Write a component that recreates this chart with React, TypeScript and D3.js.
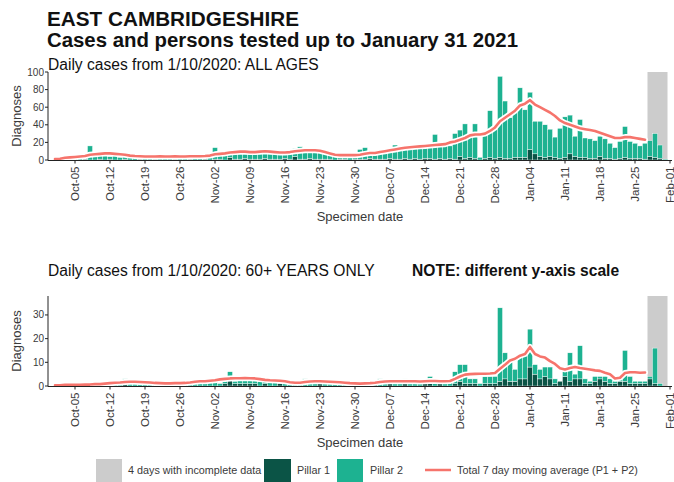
import React from 'react';
import * as d3 from 'd3';

// data: daily cases from 1 Oct 2020 (index 0) to 31 Jan 2021 (index 122)
const startDate = '2020-10-01';
const incompleteDays = ['2021-01-28', '2021-01-31'];

const weekTicks = [
  '2020-10-05', '2020-10-12', '2020-10-19', '2020-10-26', '2020-11-02', '2020-11-09',
  '2020-11-16', '2020-11-23', '2020-11-30', '2020-12-07', '2020-12-14', '2020-12-21',
  '2020-12-28', '2021-01-04', '2021-01-11', '2021-01-18', '2021-01-25', '2021-02-01',
];
const weekTickLabels = [
  'Oct-05', 'Oct-12', 'Oct-19', 'Oct-26', 'Nov-02', 'Nov-09', 'Nov-16', 'Nov-23', 'Nov-30',
  'Dec-07', 'Dec-14', 'Dec-21', 'Dec-28', 'Jan-04', 'Jan-11', 'Jan-18', 'Jan-25', 'Feb-01',
];

const allAgesPillar1 = [
  0, 0, 0, 1, 0, 0, 1, 0, 0, 1,
  0, 1, 0, 0, 1, 0, 0, 1, 0, 0,
  1, 0, 0, 0, 1, 0, 0, 1, 0, 0,
  1, 0, 1, 1, 0, 3, 1, 1, 2, 1,
  1, 1, 2, 1, 1, 1, 2, 1, 4, 1,
  1, 2, 1, 1, 1, 1, 0, 1, 1, 0,
  1, 1, 1, 2, 1, 1, 1, 2, 1, 1,
  2, 1, 2, 1, 2, 2, 1, 2, 1, 2,
  1, 4, 2, 3, 2, 0, 2, 3, 2, 3,
  2, 2, 3, 3, 3, 12, 7, 4, 3, 4,
  3, 2, 3, 7, 4, 3, 3, 2, 2, 4,
  2, 2, 1, 2, 3, 2, 2, 2, 1, 4,
  3, 2, 0,
];
const allAgesPillar2 = [
  2, 1, 3, 1, 4, 5, 2, 16, 4, 4,
  6, 3, 7, 3, 4, 3, 4, 2, 5, 4,
  2, 5, 4, 3, 3, 5, 4, 2, 4, 5,
  5, 3, 13, 4, 7, 6, 7, 9, 7, 7,
  9, 8, 8, 7, 6, 8, 6, 9, 9, 14,
  10, 10, 9, 8, 7, 4, 4, 4, 2, 4,
  5, 11, 13, 6, 8, 6, 9, 9, 16, 11,
  11, 14, 12, 15, 15, 13, 28, 15, 17, 14,
  29, 30, 39, 24, 39, 3, 26, 53, 33, 92,
  65, 46, 54, 79, 54, 65, 37, 40, 37, 31,
  23, 34, 46, 44, 23, 43, 22, 22, 20, 23,
  22, 17, 13, 19, 35, 19, 17, 14, 18, 18,
  27, 15, 1,
];
const allAgesAverage = [
  1, 1.5, 2.5, 3, 3.5, 4, 4.5, 6, 6.5, 7,
  7.5, 7.5, 7, 6.5, 6, 5, 4.5, 4.2, 4, 4,
  4, 4.2, 4, 4, 4.2, 4, 4, 4.2, 4.3, 4.3,
  4.5, 5, 6.5, 7, 7.5, 8.5, 9, 9.5, 9.5, 9,
  9, 9.5, 10, 9.5, 9, 8.5, 8.5, 9, 10, 10.5,
  11, 11, 11, 10.5, 9, 7.5, 6, 5.5, 5.5, 5.5,
  5.5, 6, 7, 8, 8, 9, 10, 11, 12, 13,
  14, 14.5, 15, 15.5, 16, 16.5, 17, 17.5, 18, 20,
  21, 23, 25, 28, 29, 29, 30, 33, 37, 44,
  48, 52, 56, 62, 64, 68, 63, 60, 57, 54,
  50, 45, 42, 40, 38, 36, 35, 34, 33, 31,
  29, 27, 25, 25, 26, 26, 25, 24, 23,
];

const over60Pillar1 = [
  0, 0, 0, 0, 0, 0, 0, 0, 0, 0,
  0, 0, 0, 0, 1, 0, 0, 0, 0, 0,
  0, 0, 0, 1, 0, 0, 0, 0, 0, 0,
  0, 0, 0, 0, 1, 4, 1, 1, 1, 1,
  1, 0, 1, 0, 0, 1, 0, 0, 0, 0,
  0, 0, 0, 1, 0, 0, 0, 0, 0, 0,
  0, 0, 0, 0, 1, 0, 0, 1, 0, 0,
  1, 0, 0, 0, 1, 1, 0, 1, 0, 0,
  1, 2, 1, 1, 1, 0, 1, 1, 1, 2,
  3, 2, 2, 3, 3, 8, 5, 3, 4, 3,
  1, 2, 4, 2, 3, 3, 1, 1, 2, 3,
  2, 1, 1, 2, 2, 1, 1, 1, 1, 3,
  1, 0, 0,
];
const over60Pillar2 = [
  0, 0, 1, 0, 0, 1, 0, 1, 0, 1,
  2, 1, 2, 1, 2, 1, 2, 2, 1, 2,
  1, 1, 1, 1, 1, 1, 1, 2, 2, 2,
  2, 2, 3, 1, 2, 2, 1, 2, 2, 3,
  2, 2, 2, 2, 2, 2, 2, 1, 1, 2,
  3, 2, 2, 1, 1, 2, 2, 1, 1, 1,
  1, 1, 1, 2, 1, 3, 2, 1, 1, 2,
  2, 2, 2, 1, 1, 3, 2, 1, 1, 2,
  5, 7, 8, 2, 2, 1, 3, 3, 3, 31,
  11, 9, 5, 9, 11, 16, 4, 4, 4, 5,
  2, 0, 2, 12, 2, 14, 2, 1, 2, 1,
  2, 2, 1, 1, 13, 3, 1, 1, 1, 1,
  15, 1, 0,
];
const over60Average = [
  0.3, 0.3, 0.5, 0.5, 0.5, 0.5, 0.6, 0.6, 0.8, 0.8,
  1, 1.2, 1.4, 1.5, 1.7, 1.8, 1.8, 1.7, 1.6, 1.5,
  1.3, 1.2, 1.1, 1.1, 1.2, 1.2, 1.3, 1.5, 1.8, 2,
  2, 2.2, 2.4, 2.8, 3, 3.2, 3.3, 3.3, 3.4, 3.3,
  3.2, 2.9, 2.6, 2.4, 2.3, 2.2, 2, 1.6, 1.4, 1.4,
  1.7, 1.9, 2, 2, 1.9, 1.8, 1.7, 1.6, 1.4, 1.2,
  1.1, 1, 1.1, 1.2, 1.4, 1.7, 1.9, 2, 2, 2,
  2, 2, 2, 1.9, 2, 2.1, 2.1, 2, 2, 2.1,
  3, 4, 4.8, 5, 5.1, 5.2, 5.2, 5.3, 5.5, 7.3,
  9, 10.8, 11.5, 12.8, 13.5, 16.5, 13.5, 12.5, 12, 10.5,
  9.3, 7.5, 7, 7.6, 8, 7.6, 7.3, 7, 6.6, 6.4,
  5.6, 5, 3.2, 3.5, 5.5, 5.8, 5.8, 5.6, 5.7,
];

const allAgesTicks = [0, 20, 40, 60, 80, 100];
const over60Ticks = [0, 10, 20, 30];

const FONT = '"Liberation Sans", Arial, Helvetica, sans-serif';
const PILLAR1 = '#0b5446';
const PILLAR2 = '#1db291';
const AVG = '#f6746c';
const BAND = '#cccccc';
const TEXT = '#3a3a3a';

const DAY = 864e5;
const start = new Date(startDate + 'T00:00:00Z');
const dateAt = (i: number) => new Date(start.getTime() + i * DAY);
const x = d3.scaleUtc().domain([dateAt(-1.4), dateAt(123.4)]).range([48, 672]);
const dayW = x(dateAt(1)) - x(dateAt(0));

interface PanelProps {
  top: number;
  bottom: number;
  yMax: number;
  yTicks: number[];
  pillar1: number[];
  pillar2: number[];
  average: number[];
}

const Panel: React.FC<PanelProps> = ({ top, bottom, yMax, yTicks, pillar1, pillar2, average }) => {
  const y = d3.scaleLinear().domain([0, yMax]).range([bottom, top]);
  const [x0, x1] = x.range();
  const line = d3.line<number>().x((_, i) => x(dateAt(i))).y(v => y(v));
  const path = line(average) || '';
  const bandStart = x(new Date(incompleteDays[0] + 'T00:00:00Z')) - dayW / 2;
  const bandEnd = x(new Date(incompleteDays[1] + 'T00:00:00Z')) + dayW / 2;

  return (
    <g>
      <rect x={bandStart} y={top} width={bandEnd - bandStart} height={bottom - top} fill={BAND} />
      {pillar1.map((p1, i) => {
        const cx = x(dateAt(i));
        const p2 = pillar2[i];
        return (
          <g key={i}>
            {p1 > 0 && (
              <rect x={cx - dayW / 2} y={y(p1)} width={dayW} height={y(0) - y(p1)}
                fill={PILLAR1} stroke="#fff" strokeWidth={0.4} />
            )}
            {p2 > 0 && (
              <rect x={cx - dayW / 2} y={y(p1 + p2)} width={dayW} height={y(p1) - y(p1 + p2)}
                fill={PILLAR2} stroke="#fff" strokeWidth={0.4} />
            )}
          </g>
        );
      })}
      <path d={path} fill="none" stroke="#fff" strokeWidth={6} strokeLinejoin="round" strokeLinecap="round" />
      <path d={path} fill="none" stroke={AVG} strokeWidth={2.6} strokeLinejoin="round" strokeLinecap="round" />

      {/* axes */}
      <line x1={x0} x2={x1} y1={bottom + 0.5} y2={bottom + 0.5} stroke="#222" strokeWidth={1} />
      <line x1={x0} x2={x0} y1={top} y2={bottom + 0.5} stroke="#222" strokeWidth={1} />
      {yTicks.map(t => (
        <g key={t} transform={`translate(${x0},${y(t)})`}>
          <line x1={-3} x2={0} stroke="#222" />
          <text x={-4} dy="0.35em" textAnchor="end" fontSize={10} fill={TEXT} fontFamily={FONT}>{t}</text>
        </g>
      ))}
      {weekTicks.map((d, i) => {
        const tx = x(new Date(d + 'T00:00:00Z'));
        return (
          <g key={d} transform={`translate(${tx},${bottom + 0.5})`}>
            <line y1={0} y2={3} stroke="#222" />
            <text transform="rotate(-90)" x={-6} dy="0.35em" textAnchor="end" fontSize={11.5}
              fill={TEXT} fontFamily={FONT}>{weekTickLabels[i]}</text>
          </g>
        );
      })}
      <text transform={`translate(21,${(top + bottom) / 2}) rotate(-90)`} textAnchor="middle"
        fontSize={13} fill={TEXT} fontFamily={FONT}>Diagnoses</text>
      <text x={(x0 + x1) / 2} y={bottom + 61} textAnchor="middle" fontSize={13} fill={TEXT}
        fontFamily={FONT}>Specimen date</text>
    </g>
  );
};

const App: React.FC = () => {
  const legendY = 459;
  return (
    <svg width={674} height={482} style={{ position: 'absolute', left: 0, top: 0, background: '#fff' }}>
      <text x={47} y={26} fontSize={20} fontWeight="bold" fill="#111" fontFamily={FONT}
        textLength={252} lengthAdjust="spacingAndGlyphs">EAST CAMBRIDGESHIRE</text>
      <text x={47} y={47} fontSize={20} fontWeight="bold" fill="#111" fontFamily={FONT}
        textLength={471} lengthAdjust="spacingAndGlyphs">
        Cases and persons tested up to January 31 2021
      </text>

      <text x={48} y={70} fontSize={15.6} fill="#111" fontFamily={FONT}>Daily cases from 1/10/2020: ALL AGES</text>
      <Panel top={72} bottom={160} yMax={100} yTicks={allAgesTicks}
        pillar1={allAgesPillar1} pillar2={allAgesPillar2} average={allAgesAverage} />

      <text x={48} y={276} fontSize={15.6} fill="#111" fontFamily={FONT}>Daily cases from 1/10/2020: 60+ YEARS ONLY</text>
      <text x={412} y={276} fontSize={15.6} fontWeight="bold" fill="#111" fontFamily={FONT}>NOTE: different y-axis scale</text>
      <Panel top={296} bottom={386} yMax={38} yTicks={over60Ticks}
        pillar1={over60Pillar1} pillar2={over60Pillar2} average={over60Average} />

      {/* legend */}
      <g fontFamily={FONT} fontSize={10.8} fill={TEXT}>
        <rect x={96} y={legendY} width={26} height={23} fill={BAND} />
        <text x={128} y={legendY + 15}>4 days with incomplete data</text>
        <rect x={264} y={legendY} width={27} height={23} fill={PILLAR1} />
        <text x={297} y={legendY + 15}>Pillar 1</text>
        <rect x={337} y={legendY} width={26} height={23} fill={PILLAR2} />
        <text x={370} y={legendY + 15}>Pillar 2</text>
        <line x1={425} x2={451} y1={legendY + 11} y2={legendY + 11} stroke={AVG} strokeWidth={2.5} />
        <text x={457} y={legendY + 15}>Total 7 day moving average (P1 + P2)</text>
      </g>
    </svg>
  );
};

export default App;
